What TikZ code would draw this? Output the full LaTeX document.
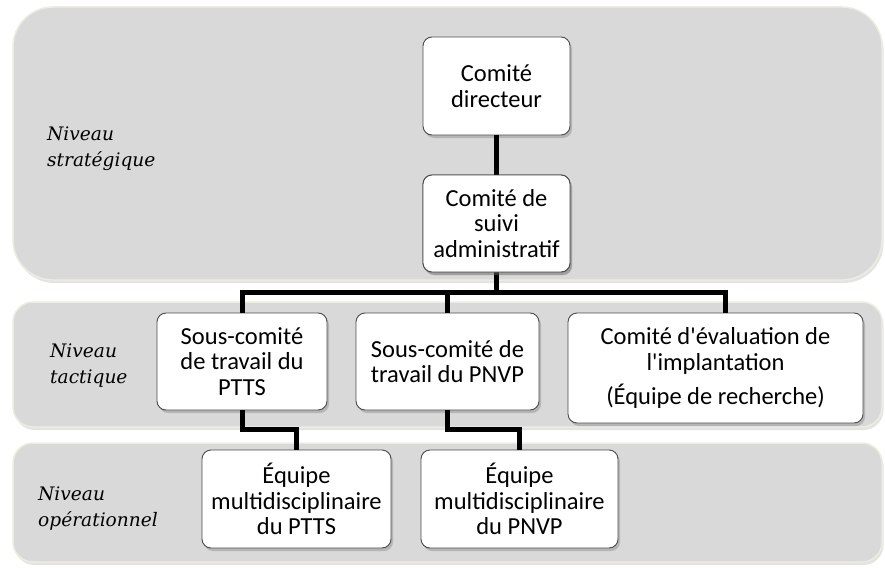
\documentclass[tikz,border=0pt]{standalone}
\usepackage{fontspec}
\newfontfamily\boxfont{Carlito}
\newfontfamily\levelfont{DejaVu Serif}
\usetikzlibrary{shadows}

\definecolor{bandfill}{HTML}{D9D9D9}
\definecolor{bandedge}{HTML}{EEECE1}
\definecolor{boxedge}{HTML}{4A4A4A}

\tikzset{
  band/.style={fill=bandfill, draw=bandedge, line width=1.5pt,
    drop shadow={opacity=0.22, shadow xshift=1.5pt, shadow yshift=-3pt}},
  orgbox/.style={rectangle, rounded corners=9pt, fill=white, draw=boxedge,
    line width=0.9pt, inner sep=0pt, align=center,
    font=\boxfont\fontsize{24.5}{25.5}\selectfont,
    drop shadow={opacity=0.4, shadow xshift=2pt, shadow yshift=-3pt}},
  lvl/.style={anchor=west, align=left, inner sep=0pt,
    font=\levelfont\itshape\fontsize{18.6}{26}\selectfont},
  conn/.style={line width=5pt, black}
}

\begin{document}
\begin{tikzpicture}[x=1pt,y=-1pt]
\useasboundingbox (0,0) rectangle (885,567);

% level bands
\draw[band, rounded corners=40pt] (13,7) rectangle (882,280);
\draw[band, rounded corners=20pt] (13,302) rectangle (882,427);
\draw[band, rounded corners=20pt] (13,443) rectangle (882,562);

% level names
\node[lvl] (lstrat) at (47,149) {Niveau\\stratégique};
\node[lvl] (ltact) at (50,366) {Niveau\\tactique};
\node[lvl] (lop) at (38,509) {Niveau\\opérationnel};

% committees
\node[orgbox, minimum width=147pt, minimum height=98pt] (dir) at (496.5,86) {Comité\\directeur};
\node[orgbox, minimum width=147pt, minimum height=97pt] (suivi) at (496.5,223.5) {Comité de\\suivi\\administratif};
\node[orgbox, minimum width=170pt, minimum height=97pt] (ptts) at (242,361.5) {Sous-comité\\de travail du\\PTTS};
\node[orgbox, minimum width=183pt, minimum height=97pt] (pnvp) at (447.5,361.5) {Sous-comité de\\travail du PNVP};
\node[orgbox, minimum width=295pt, minimum height=110pt] (eval) at (715.5,368) {\rule{0pt}{8pt}Comité d'évaluation de\\l'implantation\\[9pt](Équipe de recherche)};
\node[orgbox, minimum width=189pt, minimum height=98pt] (eq1) at (296.5,499) {Équipe\\multidisciplinaire\\du PTTS};
\node[orgbox, minimum width=197pt, minimum height=98pt] (eq2) at (519.5,499) {Équipe\\multidisciplinaire\\du PNVP};

% connectors
\coordinate (bus) at (496.5,292);
\draw[conn] (dir.south) -- (suivi.south);
\draw[conn] (suivi.south) -- (bus);
\draw[conn] (ptts.north) |- (bus) -| ([xshift=10pt]eval.north);
\draw[conn] (bus -| pnvp.north) -- (pnvp.north);
\draw[conn] (ptts.south) -- ++(0,19) -| (eq1.north);
\draw[conn] (pnvp.south) -- ++(0,19) -| (eq2.north);

% redraw the box crossed by the vertical line
\node[orgbox, minimum width=147pt, minimum height=97pt] at (suivi) {Comité de\\suivi\\administratif};
\end{tikzpicture}
\end{document}
